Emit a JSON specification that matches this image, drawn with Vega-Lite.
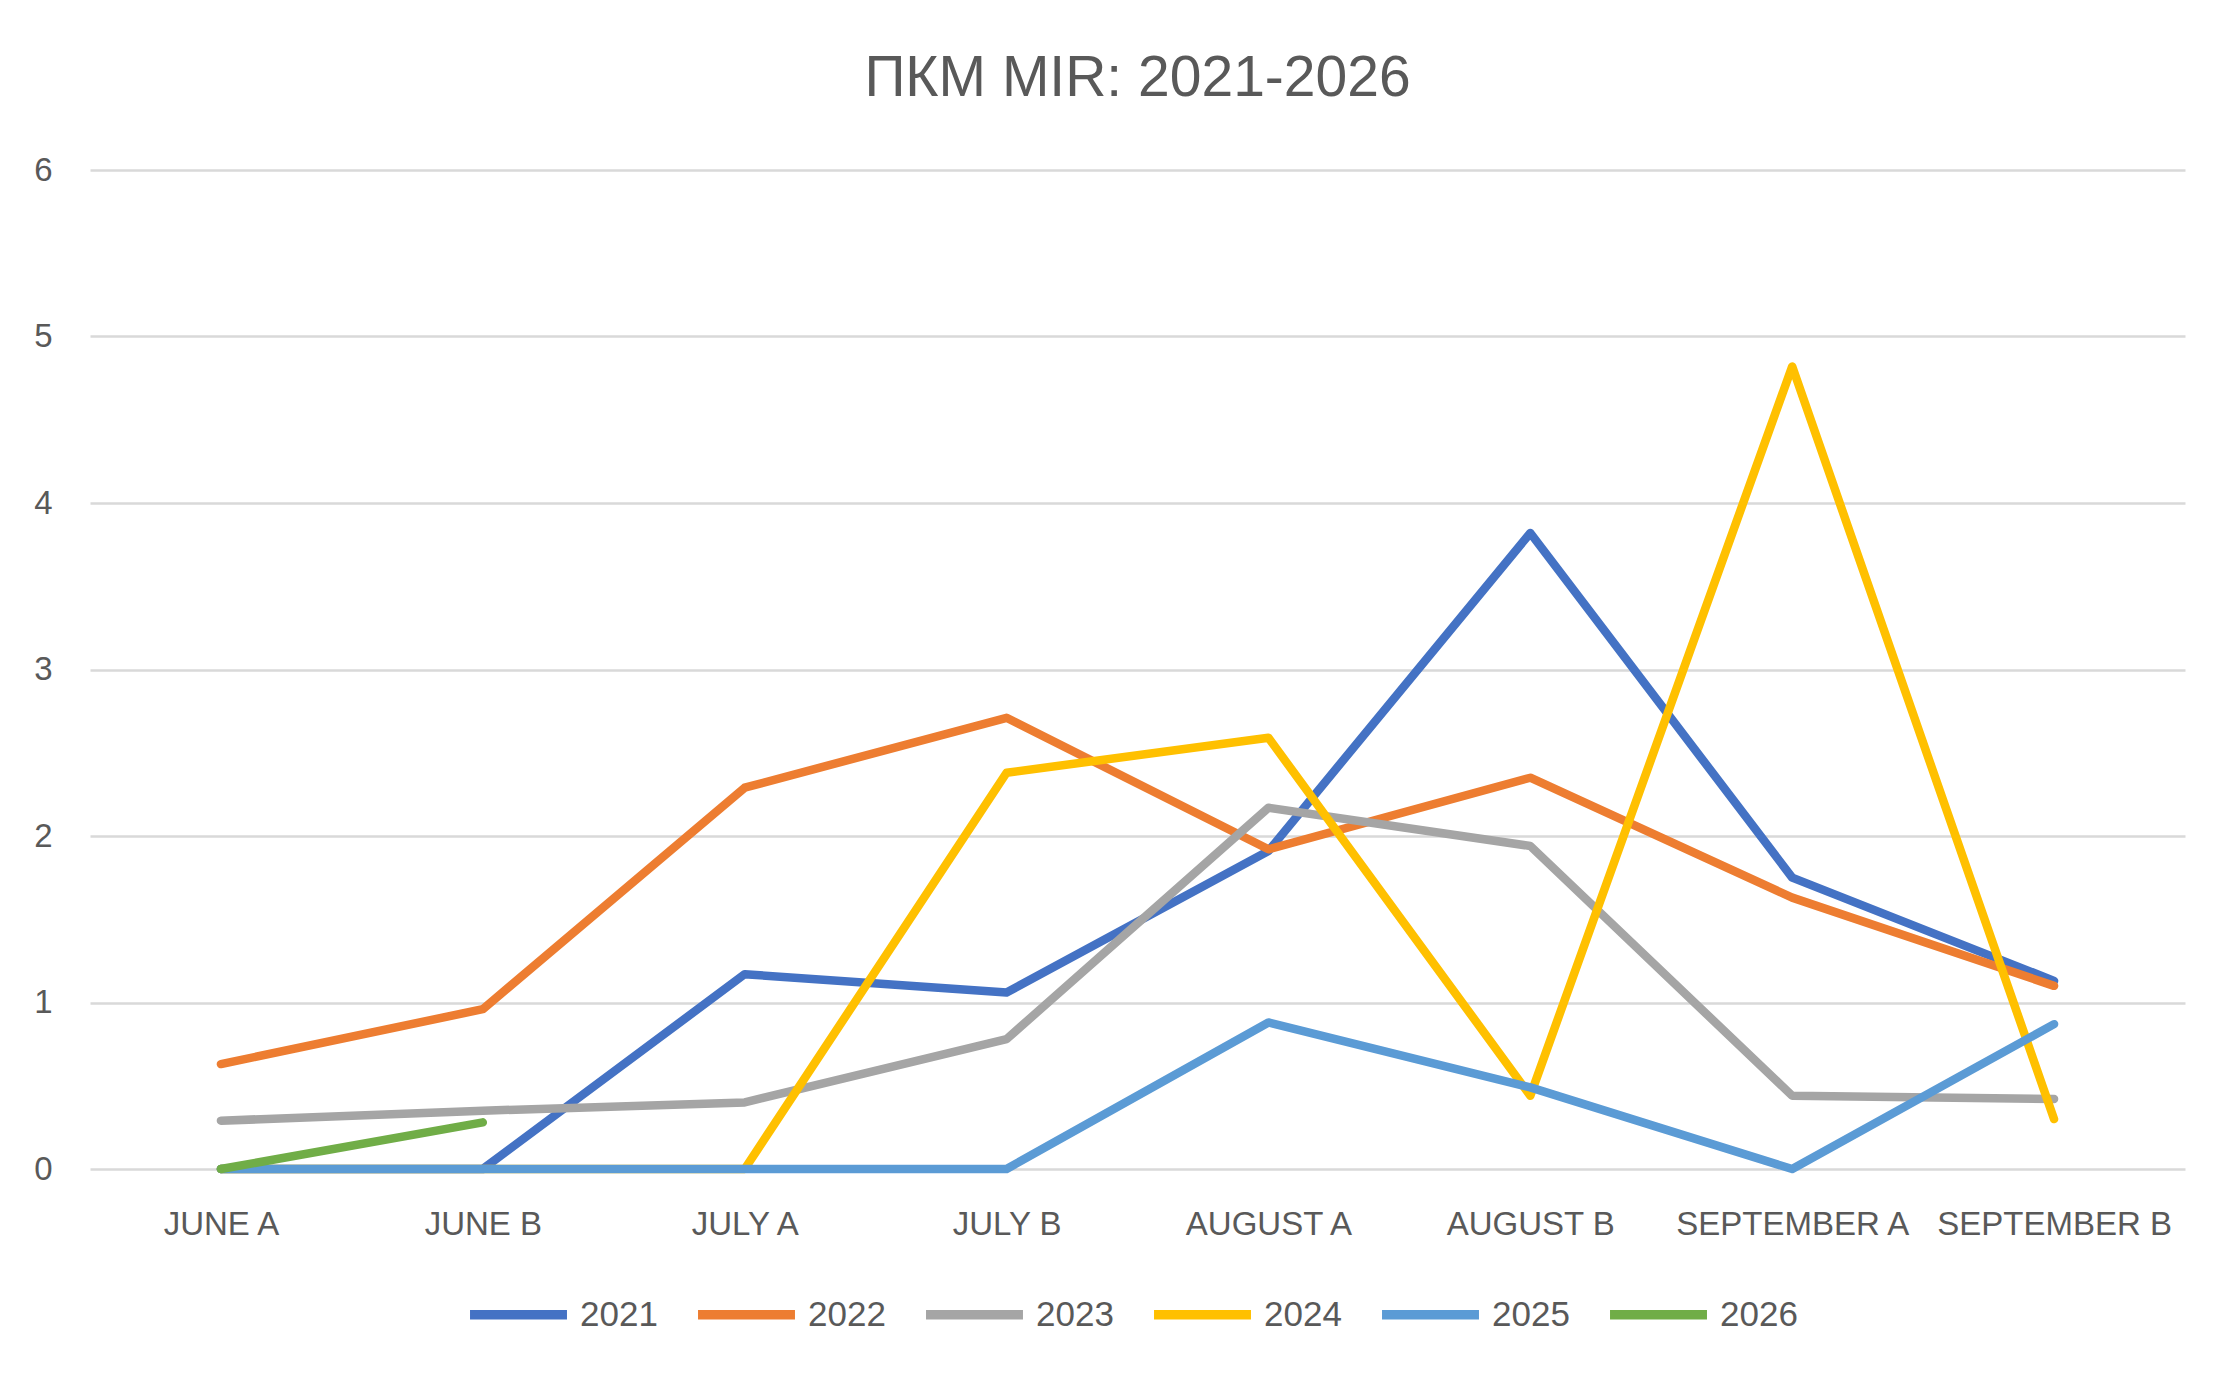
{
  "$schema": "https://vega.github.io/schema/vega-lite/v6.json",
  "width": 2095,
  "height": 999,
  "autosize": {"type": "none"},
  "padding": {"left": 90, "top": 170, "right": 51, "bottom": 213},
  "background": "white",
  "title": {
    "text": "ПКМ MIR: 2021-2026",
    "fontSize": 57,
    "font": "Liberation Sans",
    "fontWeight": "normal",
    "color": "#595959",
    "anchor": "middle",
    "offset": 46
  },
  "data": {
    "values": [
      {"year": "2021", "period": "JUNE A", "value": 0},
      {"year": "2021", "period": "JUNE B", "value": 0},
      {"year": "2021", "period": "JULY A", "value": 1.17},
      {"year": "2021", "period": "JULY B", "value": 1.06},
      {"year": "2021", "period": "AUGUST A", "value": 1.91},
      {"year": "2021", "period": "AUGUST B", "value": 3.82},
      {"year": "2021", "period": "SEPTEMBER A", "value": 1.75},
      {"year": "2021", "period": "SEPTEMBER B", "value": 1.13},
      {"year": "2022", "period": "JUNE A", "value": 0.63},
      {"year": "2022", "period": "JUNE B", "value": 0.96},
      {"year": "2022", "period": "JULY A", "value": 2.29},
      {"year": "2022", "period": "JULY B", "value": 2.71},
      {"year": "2022", "period": "AUGUST A", "value": 1.92},
      {"year": "2022", "period": "AUGUST B", "value": 2.35},
      {"year": "2022", "period": "SEPTEMBER A", "value": 1.63},
      {"year": "2022", "period": "SEPTEMBER B", "value": 1.10},
      {"year": "2023", "period": "JUNE A", "value": 0.29},
      {"year": "2023", "period": "JUNE B", "value": 0.35},
      {"year": "2023", "period": "JULY A", "value": 0.40},
      {"year": "2023", "period": "JULY B", "value": 0.78},
      {"year": "2023", "period": "AUGUST A", "value": 2.17},
      {"year": "2023", "period": "AUGUST B", "value": 1.94},
      {"year": "2023", "period": "SEPTEMBER A", "value": 0.44},
      {"year": "2023", "period": "SEPTEMBER B", "value": 0.42},
      {"year": "2024", "period": "JUNE A", "value": 0},
      {"year": "2024", "period": "JUNE B", "value": 0},
      {"year": "2024", "period": "JULY A", "value": 0},
      {"year": "2024", "period": "JULY B", "value": 2.38},
      {"year": "2024", "period": "AUGUST A", "value": 2.59},
      {"year": "2024", "period": "AUGUST B", "value": 0.44},
      {"year": "2024", "period": "SEPTEMBER A", "value": 4.82},
      {"year": "2024", "period": "SEPTEMBER B", "value": 0.30},
      {"year": "2025", "period": "JUNE A", "value": 0},
      {"year": "2025", "period": "JUNE B", "value": 0},
      {"year": "2025", "period": "JULY A", "value": 0},
      {"year": "2025", "period": "JULY B", "value": 0},
      {"year": "2025", "period": "AUGUST A", "value": 0.88},
      {"year": "2025", "period": "AUGUST B", "value": 0.49},
      {"year": "2025", "period": "SEPTEMBER A", "value": 0},
      {"year": "2025", "period": "SEPTEMBER B", "value": 0.87},
      {"year": "2026", "period": "JUNE A", "value": 0},
      {"year": "2026", "period": "JUNE B", "value": 0.28}
    ]
  },
  "mark": {"type": "line", "strokeWidth": 8.5, "strokeCap": "round", "strokeJoin": "round"},
  "encoding": {
    "x": {
      "field": "period",
      "type": "ordinal",
      "sort": ["JUNE A", "JUNE B", "JULY A", "JULY B", "AUGUST A", "AUGUST B", "SEPTEMBER A", "SEPTEMBER B"],
      "scale": {"type": "point", "padding": 0.5},
      "axis": {
        "title": null,
        "labelAngle": 0,
        "ticks": false,
        "domain": false,
        "grid": false,
        "labelPadding": 39,
        "labelLimit": 0
      }
    },
    "y": {
      "field": "value",
      "type": "quantitative",
      "scale": {"domain": [0, 6], "nice": false},
      "axis": {
        "title": null,
        "values": [0, 1, 2, 3, 4, 5, 6],
        "labelOverlap": false,
        "ticks": false,
        "domain": false,
        "labelPadding": 38,
        "gridColor": "#d9d9d9",
        "gridWidth": 2.5
      }
    },
    "color": {
      "field": "year",
      "type": "nominal",
      "scale": {
        "domain": ["2021", "2022", "2023", "2024", "2025", "2026"],
        "range": ["#4472C4", "#ED7D31", "#A5A5A5", "#FFC000", "#5B9BD5", "#70AD47"]
      },
      "legend": {
        "title": null,
        "orient": "none",
        "legendX": 375,
        "legendY": 1091,
        "direction": "horizontal",
        "symbolType": "stroke",
        "symbolSize": 9400,
        "symbolStrokeWidth": 9.5,
        "labelFontSize": 35,
        "labelColor": "#595959",
        "labelFont": "Liberation Sans",
        "columnPadding": 21,
        "labelOffset": 8
      }
    }
  },
  "config": {
    "view": {"stroke": null},
    "axis": {
      "labelFont": "Liberation Sans",
      "labelFontSize": 33,
      "labelColor": "#595959"
    }
  }
}
